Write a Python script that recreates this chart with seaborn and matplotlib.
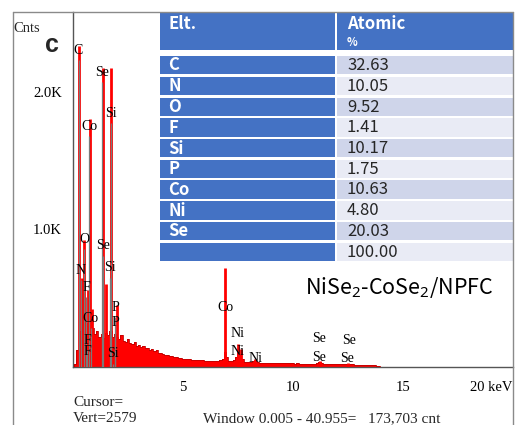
import numpy as np
import pandas as pd
import matplotlib.pyplot as plt
import seaborn as sns
from matplotlib.patches import Rectangle
from matplotlib.lines import Line2D

# EDS spectrum: background counts in 0.1 keV channels, 0.0 - 14.0 keV
bg_counts = [
    0, 20, 120, 260, 300, 340, 320, 300, 330, 280,
    240, 260, 220, 240, 210, 250, 230, 260, 220, 240,
    215, 200, 230, 190, 185, 200, 175, 165, 180, 150,
    160, 145, 150, 135, 140, 125, 130, 115, 120, 105,
    100, 95, 90, 85, 78, 80, 72, 70, 66, 64,
    60, 58, 60, 55, 54, 52, 53, 50, 48, 49,
    46, 45, 44, 42, 44, 42, 45, 48, 60, 110,
    75, 45, 40, 48, 70, 100, 85, 55, 38, 36,
    35, 36, 45, 40, 33, 32, 32, 30, 31, 30,
    29, 30, 28, 29, 28, 27, 28, 27, 26, 27,
    26, 25, 26, 25, 24, 25, 24, 23, 24, 23,
    24, 28, 35, 30, 23, 22, 21, 22, 21, 20,
    20, 19, 20, 19, 21, 24, 22, 19, 18, 17,
    16, 15, 15, 14, 13, 12, 12, 11, 10, 8,
    0,
]

# element peaks (keV, counts)
peak_kev = [0.28, 0.39, 0.52, 0.68, 0.78, 0.85, 1.38, 1.48, 1.74, 2.01,
            6.93, 7.48, 7.65, 8.26, 11.22, 12.50]
peak_counts = [2330, 650, 920, 560, 1800, 420, 2170, 600, 2170, 450,
               720, 170, 130, 60, 45, 30]

# KLM marker labels (keV, counts)
marker_names = ["C", "Se", "Si", "Co", "O", "Se", "N", "Si", "F", "P", "Co", "P",
                "F", "F", "Si", "Co", "Ni", "Ni", "Ni", "Se", "Se", "Se", "Se"]
marker_kev = [0.25, 1.33, 1.74, 0.73, 0.50, 1.36, 0.36, 1.68, 0.59, 1.91, 0.80, 1.91,
              0.64, 0.64, 1.82, 6.93, 7.50, 7.50, 8.30, 11.18, 12.55, 11.18, 12.45]
marker_counts = [2300, 2140, 1840, 1750, 930, 880, 700, 720, 580, 435, 355, 320,
                 195, 110, 95, 435, 245, 110, 65, 205, 190, 72, 65]

# quantification table
elements = ["C", "N", "O", "F", "Si", "P", "Co", "Ni", "Se", ""]
atomic_pct = [32.63, 10.05, 9.52, 1.41, 10.17, 1.75, 10.63, 4.80, 20.03, 100.00]

sns.set_theme(style="white")
plt.rcParams['font.family'] = ['Liberation Serif', 'DejaVu Serif']
plt.rcParams['mathtext.fontset'] = 'custom'
plt.rcParams['mathtext.rm'] = 'Noto Sans'
plt.rcParams['mathtext.it'] = 'Noto Sans'

W, H = 515, 425
fig = plt.figure(figsize=(W / 100, H / 100), dpi=100)
ax = fig.add_axes([73 / W, 1 - 367 / H, 440 / W, 355 / H])

energy = np.round(np.arange(len(bg_counts)) * 0.1, 1)
df = pd.DataFrame({"kev": energy, "counts": bg_counts})

ax.fill_between(df["kev"], df["counts"], step="mid", color="#ff0000", lw=0, zorder=2)
sns.lineplot(data=df, x="kev", y="counts", ax=ax, color="#c00000", lw=0.6,
             drawstyle="steps-mid", zorder=3)
ax.vlines(peak_kev, 0, peak_counts, colors="#ff0000", lw=2, zorder=3)

for name, kev, cnt in zip(marker_names, marker_kev, marker_counts):
    if kev < 3:
        ax.vlines(kev, 0, cnt - 70, colors="#7a7a7a", lw=0.9, zorder=4)
    ax.text(kev, cnt, name, ha="center", va="center", fontsize=10,
            color="black", zorder=5)

ax.set_xlim(0, 20)
ax.set_ylim(0, 2580)
ax.set_xlabel("")
ax.set_ylabel("")

ax.set_xticks(list(range(1, 21)))
ax.set_xticklabels(["5" if t == 5 else "10" if t == 10 else "15" if t == 15
                    else "20 keV" if t == 20 else "" for t in range(1, 21)])
ax.get_xticklabels()[-1].set_horizontalalignment("right")
ax.set_yticks([500, 1000, 1500, 2000, 2500])
ax.set_yticklabels(["", "1.0K", "", "2.0K", ""])
ax.tick_params(axis="both", direction="out", length=4, width=0.8,
               color="#555555", labelsize=10.5, labelcolor="black", pad=4)
ax.tick_params(axis="x", length=5, pad=5)

for side in ["top", "right"]:
    ax.spines[side].set_visible(False)
for side in ["left", "bottom"]:
    ax.spines[side].set_color("#555555")
    ax.spines[side].set_linewidth(1)
ax.set_facecolor("none")

# outer frame
frame = dict(color="#8a8a8a", lw=1, transform=fig.transFigure)
fig.add_artist(Line2D([13 / W, 13 / W], [0, 1 - 12 / H], **frame))
fig.add_artist(Line2D([13 / W, 513 / W], [1 - 12 / H, 1 - 12 / H], **frame))
fig.add_artist(Line2D([513 / W, 513 / W], [0, 1 - 12 / H], **frame))

# table
blue = "#4472C4"
shades = ["#CFD5EA", "#E9EBF5"]
tfont = ['Noto Sans CJK SC', 'DejaVu Sans']
tax = fig.add_axes([160 / W, 1 - 263 / H, 353 / W, 250 / H])
tax.set_xlim(160, 513)
tax.set_ylim(263, 13)
tax.axis("off")
tax.add_patch(Rectangle((160, 13), 175, 37, color=blue, lw=0))
tax.add_patch(Rectangle((337, 13), 176, 37, color=blue, lw=0))
tax.text(168, 24, "Elt.", color="white", fontsize=12, weight="bold",
         va="center", family=tfont)
tax.text(347, 24, "Atomic", color="white", fontsize=12, weight="bold",
         va="center", family=tfont)
tax.text(347, 42, "%", color="white", fontsize=8, weight="bold",
         va="center", family=tfont)
for i, (el, val) in enumerate(zip(elements, atomic_pct)):
    top = 56 + 20.75 * i
    tax.add_patch(Rectangle((160, top), 175, 18.3, color=blue, lw=0))
    tax.add_patch(Rectangle((337, top), 176, 18.3, color=shades[i % 2], lw=0))
    tax.text(168, top + 9.5, el, color="white", fontsize=12, weight="bold",
             va="center", family=tfont)
    tax.text(347, top + 9.5, f"{val:.2f}", color="#262626", fontsize=12,
             va="center", family=tfont)

# annotations
fig.text(399 / W, 1 - 288 / H, r"NiSe$_2$-CoSe$_2$/NPFC", ha="center", va="center",
         fontsize=15.5, family=tfont, color="black")
fig.text(52 / W, 1 - 45 / H, "c", ha="center", va="center", fontsize=18,
         weight="bold", family=["Liberation Sans", "DejaVu Sans"])
fig.text(13 / W, 1 - 28 / H, "Cnts", ha="left", va="center", fontsize=10.5)
fig.text(73 / W, 1 - 402 / H, "Cursor=", ha="left", va="center", fontsize=11)
fig.text(73 / W, 1 - 419 / H, "Vert=2579", ha="left", va="center", fontsize=11)
fig.text(203 / W, 1 - 419 / H, "Window 0.005 - 40.955=   173,703 cnt",
         ha="left", va="center", fontsize=11)

fig.savefig("out.png", dpi=100)
plt.close(fig)
